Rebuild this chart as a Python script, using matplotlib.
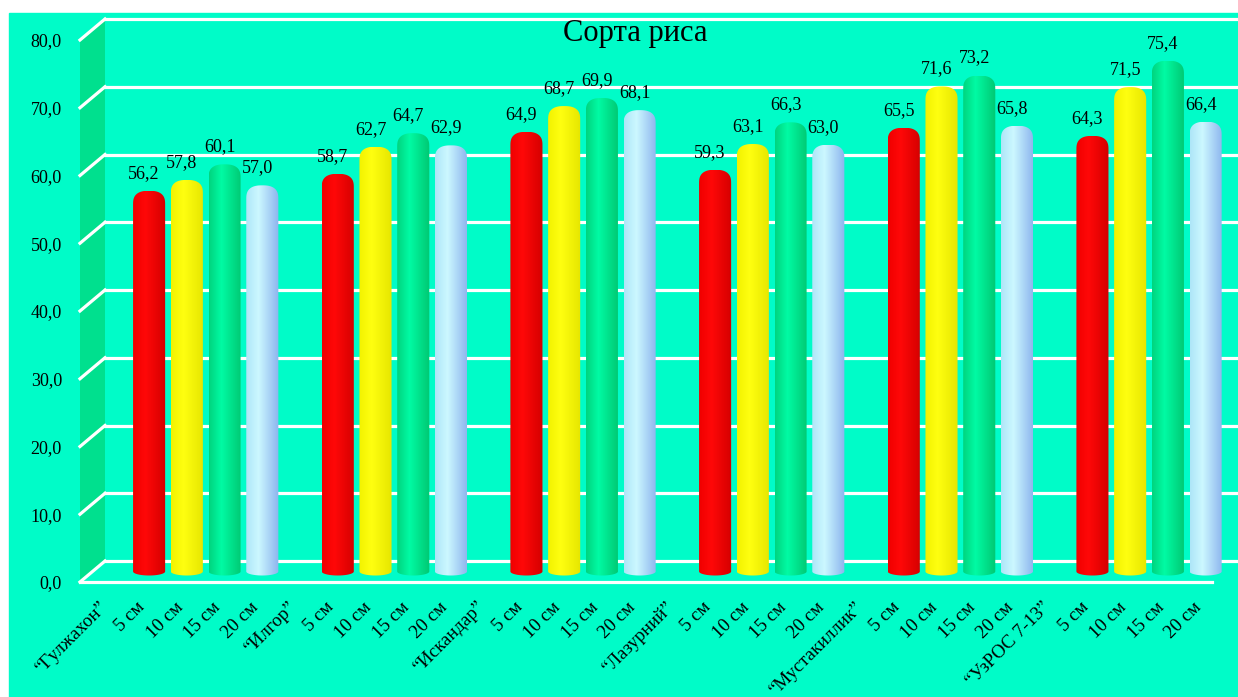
import numpy as np
import matplotlib.pyplot as plt
import matplotlib.transforms as mtransforms
from matplotlib.colors import to_rgb
from matplotlib.patches import PathPatch, Polygon, Rectangle
from matplotlib.lines import Line2D
from matplotlib.path import Path

plt.rcParams['font.family'] = ['Liberation Serif', 'DejaVu Serif']

# rice varieties and sowing depths
varieties = ['“Гулжахон”', '“Илгор”', '“Искандар”', '“Лазурний”', '“Мустакиллик”', '“УзРОС 7-13”']
depths = ['5 см', '10 см', '15 см', '20 см']

depth_5 = [56.2, 58.7, 64.9, 59.3, 65.5, 64.3]
depth_10 = [57.8, 62.7, 68.7, 63.1, 71.6, 71.5]
depth_15 = [60.1, 64.7, 69.9, 66.3, 73.2, 75.4]
depth_20 = [57.0, 62.9, 68.1, 63.0, 65.8, 66.4]
series = [depth_5, depth_10, depth_15, depth_20]

# left edge / lit centre / right edge of each cylinder
bar_shades = [
    ('#f00000', '#ff0808', '#d40000'),
    ('#f2f200', '#ffff10', '#e6e600'),
    ('#00d47e', '#00fba4', '#00c872'),
    ('#aee6f8', '#ccf8ff', '#8cb4ee'),
]
bg = '#00fcc8'
wall = '#00e08e'

tick_labels = []
for v in varieties:
    tick_labels += [v] + depths
n_slots = len(tick_labels)

W, H = 1238, 697
fig = plt.figure(figsize=(W / 100, H / 100), dpi=100)
fig.patch.set_facecolor('white')
fig.add_artist(Rectangle((9 / W, 0), 1, 1 - 13 / H, transform=fig.transFigure,
                         color=bg, zorder=0))

ax = fig.add_axes([80 / W, 115 / H, 1132 / W, 542 / H])
ax.patch.set_alpha(0)
for s in ax.spines.values():
    s.set_visible(False)
ax.set_xlim(-0.5, n_slots - 0.5)
ax.set_ylim(0, 80)

# depth of the 3d box in pixels
DX, DY = 25, 21
back = mtransforms.offset_copy(ax.transData, fig=fig, x=DX, y=DY, units='dots')
mid = mtransforms.offset_copy(ax.transData, fig=fig, x=DX / 2, y=DY / 2, units='dots')
ident = mtransforms.IdentityTransform()

# left wall
(x0, y0), (_, y80) = ax.transData.transform([(-0.5, 0), (-0.5, 80)])
ax.add_artist(Polygon([(x0, y0), (x0, y80), (x0 + DX, y80 + DY), (x0 + DX, y0 + DY)],
                      closed=True, transform=ident, facecolor=wall, edgecolor='none',
                      zorder=1, clip_on=False))

# grid lines on the back wall plus the diagonals across the side wall
yticks = list(range(0, 90, 10))
for yv in yticks:
    ax.plot([-0.5, n_slots - 0.5], [yv, yv], transform=back, color='white', lw=2.3,
            clip_on=False, zorder=2)
    px, py = ax.transData.transform((-0.5, yv))
    ax.add_artist(Line2D([px, px + DX], [py, py + DY], transform=ident, color='white',
                         lw=2.3, clip_on=False, zorder=2))
ax.plot([-0.5, n_slots - 0.5], [0, 0], color='white', lw=2.3, clip_on=False, zorder=2)

# cylinder bars
ppu = 542 / 80
hw = 0.85 / 2
rt = 14 / ppu
rb = 4 / ppu
t = np.linspace(0, 1, 96)
th_b = np.linspace(np.pi, 2 * np.pi, 30)
th_t = np.linspace(0, np.pi, 50)

for i in range(len(varieties)):
    for j, vals in enumerate(series):
        x = i * 5 + j + 1
        v = vals[i]
        verts = [(x + hw * np.cos(a), rb * np.sin(a)) for a in th_b]
        verts += [(x + hw * np.sign(np.cos(a)) * abs(np.cos(a)) ** 0.8,
                   v - rt + rt * np.sin(a) ** 0.7) for a in th_t]
        verts.append(verts[0])
        codes = [Path.MOVETO] + [Path.LINETO] * (len(verts) - 2) + [Path.CLOSEPOLY]
        patch = PathPatch(Path(verts, codes), transform=mid, facecolor='none',
                          edgecolor='none', zorder=3, clip_on=False)
        ax.add_patch(patch)

        left, centre, right = (np.array(to_rgb(c)) for c in bar_shades[j])
        col = np.empty((len(t), 3))
        for k in range(3):
            col[:, k] = np.interp(t, [0, 0.38, 1], [left[k], centre[k], right[k]])
        img = ax.imshow(col[None, :, :], extent=[x - hw, x + hw, -rb, v],
                        transform=mid, aspect='auto', interpolation='bilinear', zorder=3)
        img.set_clip_box(fig.bbox)
        img.set_clip_path(patch)

        ax.annotate(f'{v:.1f}'.replace('.', ','), (x, v), xycoords=mid,
                    xytext=(-5, 9), textcoords='offset pixels', ha='center', va='bottom',
                    fontsize=13, color='black', zorder=5)

ax.set_xlim(-0.5, n_slots - 0.5)
ax.set_ylim(0, 80)

ax.set_xticks(range(n_slots))
ax.set_xticklabels(tick_labels, rotation=45, ha='right', rotation_mode='anchor', fontsize=13.5)
ax.set_yticks(yticks)
ax.set_yticklabels([f'{y:.1f}'.replace('.', ',') for y in yticks], fontsize=13)
ax.tick_params(axis='x', length=0, pad=12)
ax.tick_params(axis='y', length=0, pad=13)

fig.text(635 / W, 1 - 33 / H, 'Сорта риса', ha='center', va='center', fontsize=22)

fig.savefig('out.png', dpi=100, facecolor=fig.get_facecolor())
